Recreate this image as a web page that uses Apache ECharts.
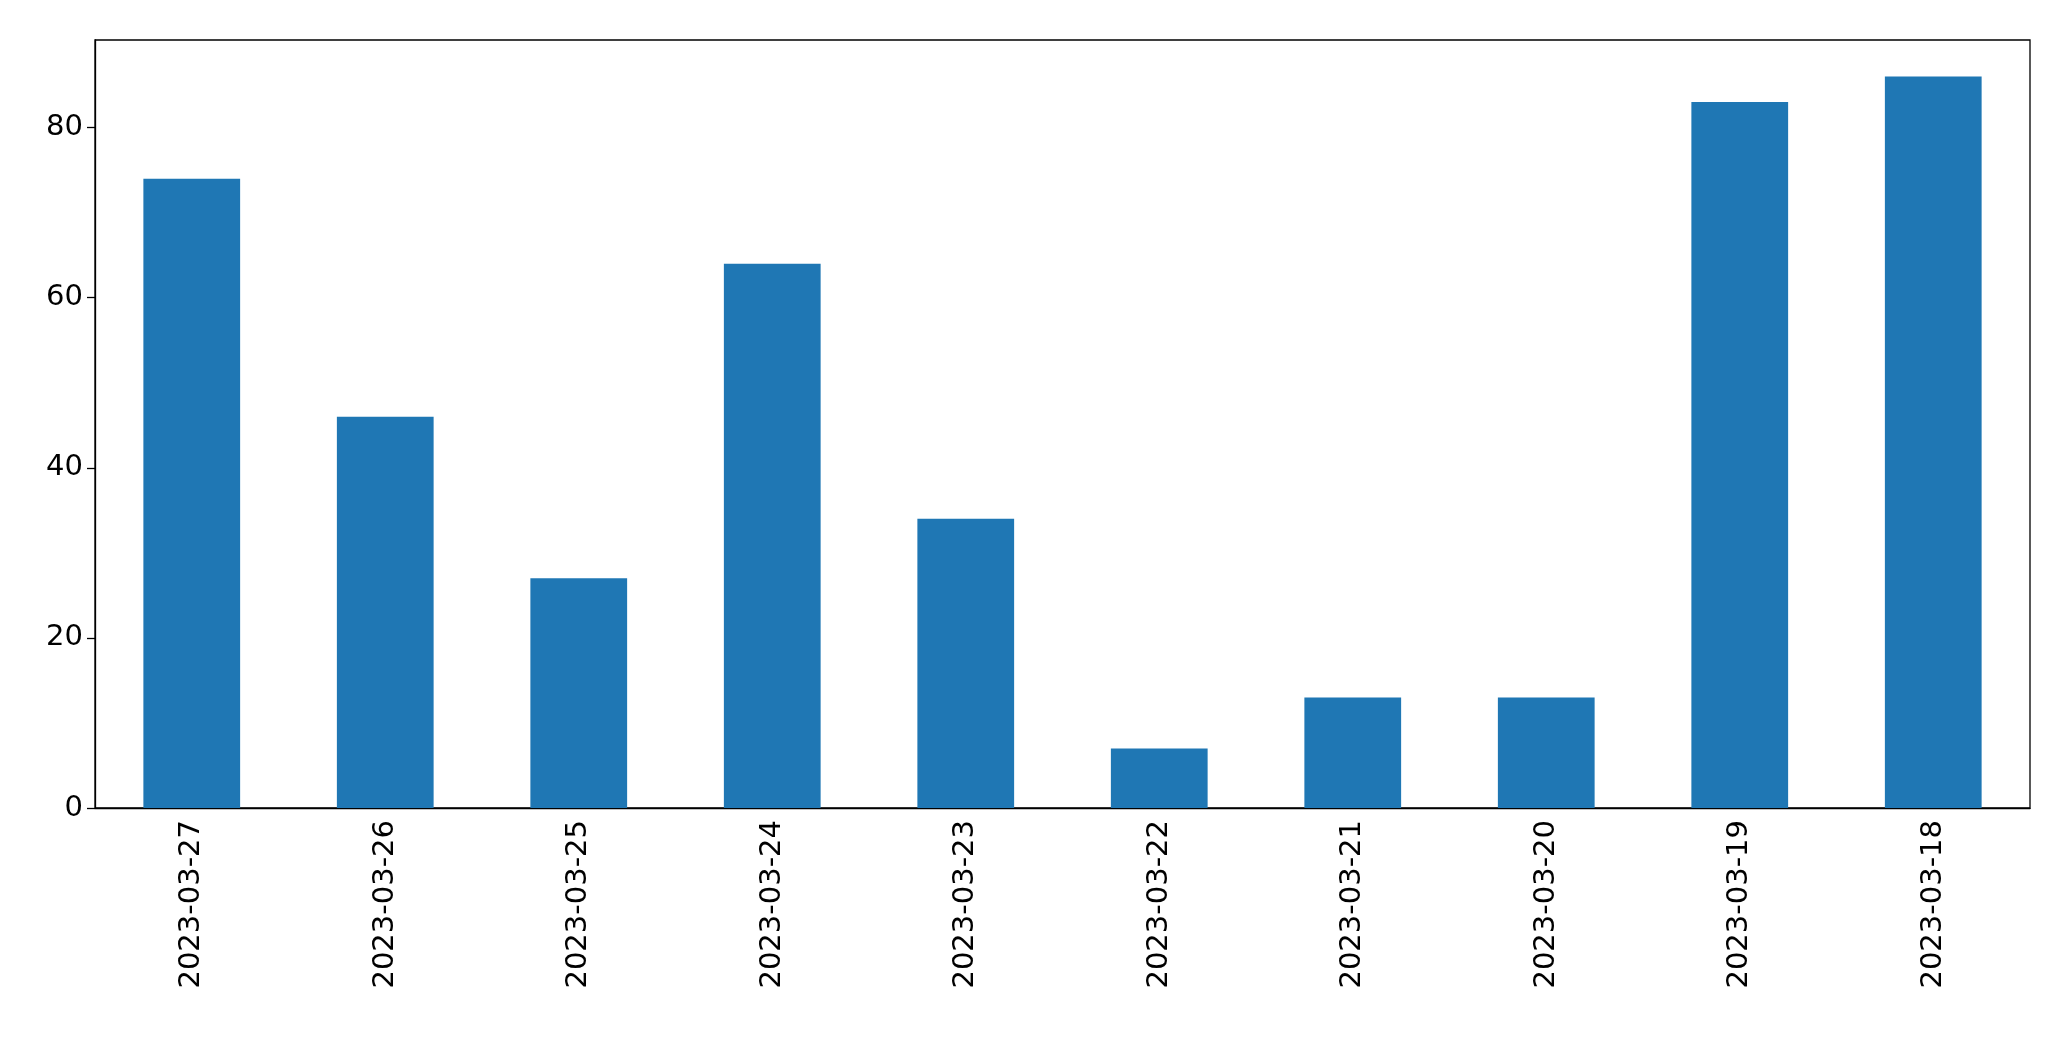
<!DOCTYPE html><html><head><meta charset="utf-8"><script src="https://cdn.jsdelivr.net/npm/echarts@6/dist/echarts.min.js"></script>
<style>html,body{margin:0;padding:0;background:#fff}#c{width:2071px;height:1061px}</style></head><body><div id="c"></div><script>
const categories=["2023-03-27","2023-03-26","2023-03-25","2023-03-24","2023-03-23","2023-03-22","2023-03-21","2023-03-20","2023-03-19","2023-03-18"];
const values=[74,46,27,64,34,7,13,13,83,86];
const chart=echarts.init(document.getElementById('c'));
const font={fontFamily:'DejaVu Sans',fontSize:29,color:'#000'};
chart.setOption({animation:false,
grid:{left:95,right:41,top:40,bottom:253,containLabel:false},
xAxis:{type:'category',data:categories,axisLine:{lineStyle:{color:'#000',width:1.3}},axisTick:{alignWithLabel:true,length:8,lineStyle:{color:'#000',width:1.3}},axisLabel:Object.assign({rotate:90,margin:12},font),splitLine:{show:false}},
yAxis:{type:'value',min:0,max:90.3,interval:20,axisLine:{show:true,lineStyle:{color:'#000',width:1.3}},axisTick:{show:true,length:8,lineStyle:{color:'#000',width:1.3}},axisLabel:Object.assign({margin:12,showMaxLabel:false},font),splitLine:{show:false}},
series:[{type:'bar',data:values,barWidth:'50%',itemStyle:{color:'#1f77b4'}},
{type:'line',data:[],markLine:{}}],
graphic:[{type:'rect',shape:{x:95,y:40,width:1935,height:768},style:{fill:'none',stroke:'#000',lineWidth:1.3},silent:true}]
});
</script></body></html>
